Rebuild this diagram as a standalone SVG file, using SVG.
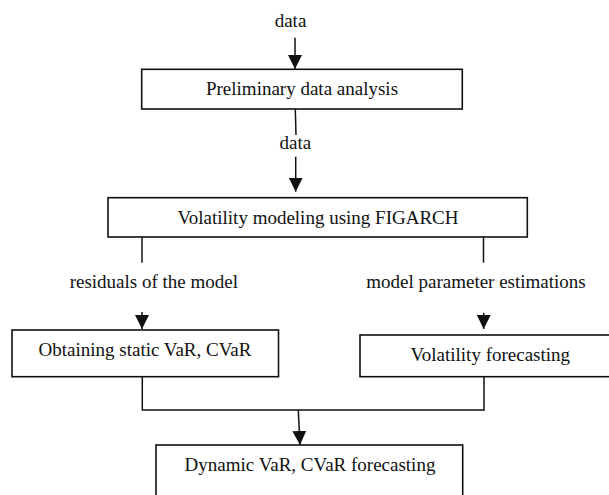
<svg xmlns="http://www.w3.org/2000/svg" width="609" height="495" viewBox="0 0 609 495">
  <style>
    .box { fill: #ffffff; stroke: #111111; stroke-width: 1.6; }
    .lbl { font-family: 'Liberation Serif', 'Times New Roman', serif; font-size: 19px; fill: #111111; text-anchor: middle; }
    .wire { fill: none; stroke: #111111; stroke-width: 1.5; }
  </style>
  <defs>
    <marker id="head" viewBox="0 0 14 14" markerUnits="userSpaceOnUse" markerWidth="14" markerHeight="14" refX="14" refY="7" orient="auto">
      <path d="M0,0 L14,7 L0,14 z" fill="#111111"/>
    </marker>
  </defs>
  <rect width="609" height="495" fill="#ffffff"/>

  <!-- flow connectors -->
  <g id="connectors">
    <path class="wire" d="M295,37.7 L295,69" marker-end="url(#head)"/>
    <path class="wire" d="M295.3,109 L296,135"/>
    <path class="wire" d="M295.7,156.7 L295.7,191.7" marker-end="url(#head)"/>
    <path class="wire" d="M142,237 L142,262.7"/>
    <path class="wire" d="M483.5,237 L483.5,262.7"/>
    <path class="wire" d="M142,312 L142,329" marker-end="url(#head)"/>
    <path class="wire" d="M483.7,313 L483.7,329" marker-end="url(#head)"/>
    <path class="wire" d="M142.3,376.7 L142.3,410 L484,410 L484,376.7"/>
    <path class="wire" d="M298.3,410 L300,445" marker-end="url(#head)"/>
  </g>

  <!-- free labels on the connectors -->
  <g id="edge-labels">
    <text class="lbl" x="290.5" y="26.7">data</text>
    <text class="lbl" x="295.3" y="149">data</text>
    <text class="lbl" x="153.8" y="288">residuals of the model</text>
    <text class="lbl" x="476" y="288">model parameter estimations</text>
  </g>

  <g id="preliminary">
    <rect class="box" x="141.7" y="69.3" width="320.6" height="39.7"/>
    <text class="lbl" x="302" y="95">Preliminary data analysis</text>
  </g>

  <g id="figarch">
    <rect class="box" x="108" y="197.7" width="419.3" height="39.3"/>
    <text class="lbl" x="318" y="224">Volatility modeling using FIGARCH</text>
  </g>

  <g id="static-var">
    <rect class="box" x="12" y="330" width="266.5" height="46.7"/>
    <text class="lbl" x="145" y="356">Obtaining static VaR, CVaR</text>
  </g>

  <g id="vol-forecast">
    <rect class="box" x="360" y="335" width="260" height="41.7"/>
    <text class="lbl" x="490.3" y="360.7">Volatility forecasting</text>
  </g>

  <g id="dynamic-var">
    <rect class="box" x="156" y="445" width="306.7" height="60"/>
    <text class="lbl" x="310" y="471">Dynamic VaR, CVaR forecasting</text>
  </g>
</svg>
